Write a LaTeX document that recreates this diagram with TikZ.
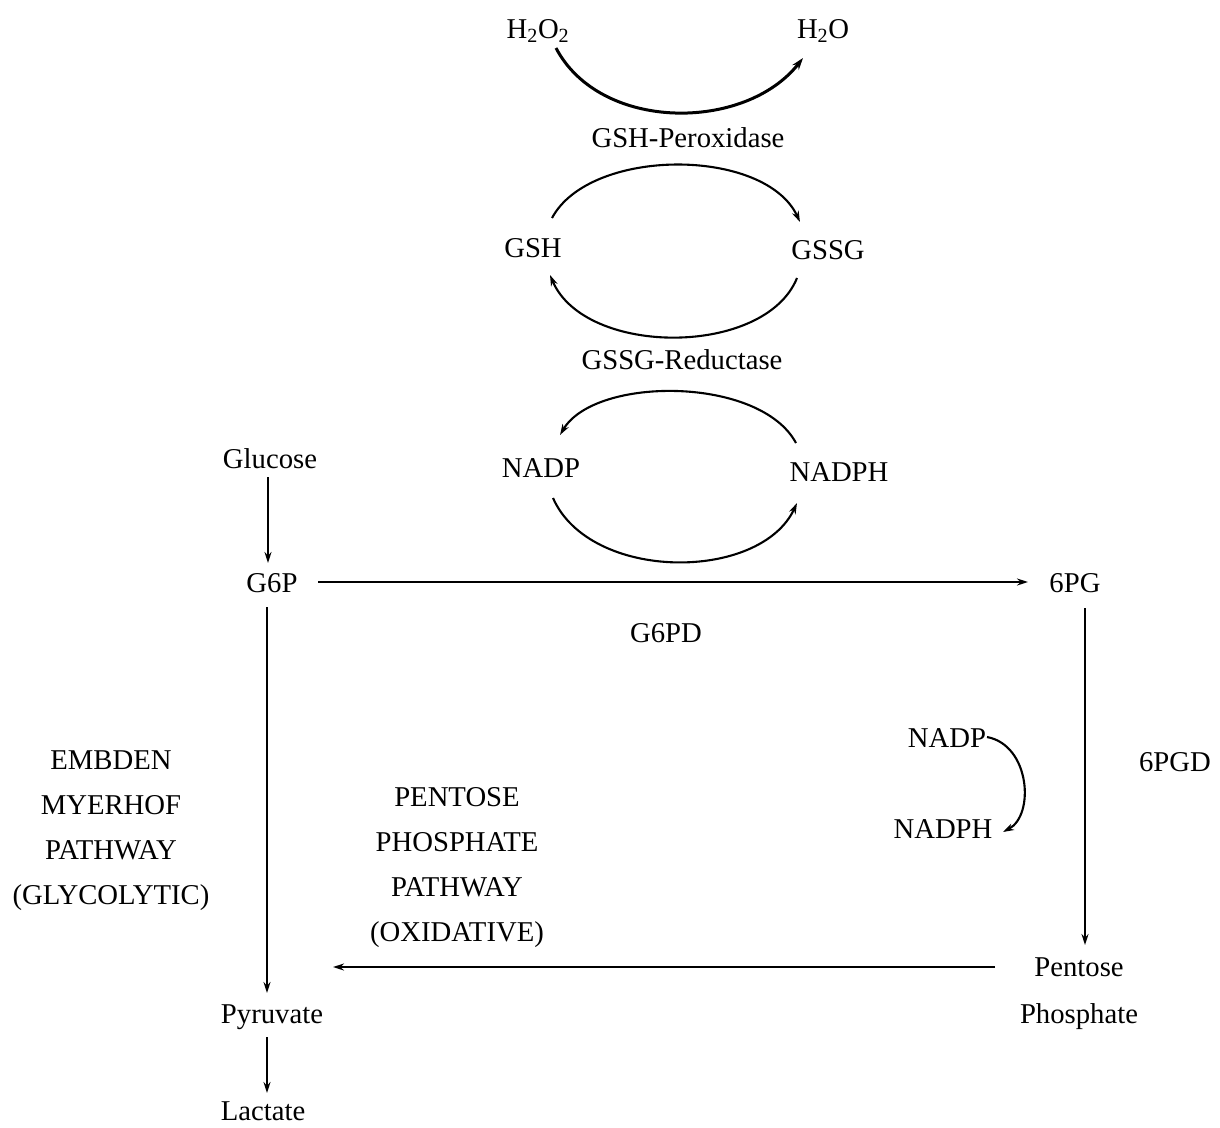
\documentclass[tikz,border=0pt]{standalone}
\usepackage{fontspec}
\setmainfont{Liberation Serif}
\usetikzlibrary{arrows.meta}
\begin{document}
\begin{tikzpicture}[x=1pt,y=-1pt,
  lbl/.style={font=\fontsize{28.7}{45}\selectfont, inner sep=0pt, align=center},
  arr/.style={line width=1.7pt, -{Stealth[length=11pt,width=7pt]}},
  arc/.style={line width=2.1pt, -{Stealth[length=11pt,width=7pt]}},
  arcthick/.style={line width=3pt, -{Stealth[length=12pt,width=8pt]}}]
\useasboundingbox (0,0) rectangle (1220,1127);
% nodes
\node[lbl] (h2o2) at (538,31) {H\textsubscript{2}O\textsubscript{2}};
\node[lbl] (h2o) at (823,31) {H\textsubscript{2}O};
\node[lbl] (gshp) at (688,138) {GSH-Peroxidase};
\node[lbl] (gsh) at (533,248) {GSH};
\node[lbl] (gssg) at (828,250) {GSSG};
\node[lbl] (gssgr) at (682,360) {GSSG-Reductase};
\node[lbl] (glucose) at (270,459) {Glucose};
\node[lbl] (nadp) at (541,468) {NADP};
\node[lbl] (nadph) at (839,472) {NADPH};
\node[lbl] (g6p) at (272,583) {G6P};
\node[lbl] (6pg) at (1075,583) {6PG};
\node[lbl] (g6pd) at (666,633) {G6PD};
\node[lbl] (emp) at (111,831) {EMBDEN\\MYERHOF\\PATHWAY\\(GLYCOLYTIC)};
\node[lbl] (ppp) at (457,868) {PENTOSE\\PHOSPHATE\\PATHWAY\\(OXIDATIVE)};
\node[lbl] (6pgd) at (1175,762) {6PGD};
\node[lbl] (nadp2) at (947,738) {NADP};
\node[lbl] (nadph2) at (943,829) {NADPH};
\node[lbl, font=\fontsize{28.7}{47}\selectfont] (pp) at (1079,994) {Pentose\\Phosphate};
\node[lbl] (pyr) at (272,1017) {Pyruvate};
\node[lbl] (lac) at (263,1111) {Lactate};
% coordinates for connector ends
\coordinate (a1) at (556,48);  \coordinate (a2) at (803,58);
\coordinate (b1) at (552,218); \coordinate (b2) at (800,222);
\coordinate (c1) at (797,278); \coordinate (c2) at (550,275);
\coordinate (d1) at (796,443); \coordinate (d2) at (560,435);
\coordinate (e1) at (553,498); \coordinate (e2) at (797,503);
\coordinate (f1) at (987,737); \coordinate (f2) at (1003,832);
\coordinate (ppleft) at (333,967);
% curved connectors
\draw[arcthick] (a1) .. controls (600,132) and (745,132) .. (a2);
\draw[arc] (b1) .. controls (590,147) and (765,147) .. (b2);
\draw[arc] (c1) .. controls (765,357) and (585,357) .. (c2);
\draw[arc] (d1) .. controls (760,376) and (595,376) .. (d2);
\draw[arc] (e1) .. controls (590,582) and (760,582) .. (e2);
\draw[arc] (f1) .. controls (1030,745) and (1035,815) .. (f2);
% straight connectors
\draw[arr] (268,477) coordinate (gl0) -- (268,563) coordinate (gl1);
\draw[arr] (318,582) coordinate (g0) -- (1028,582) coordinate (g1);
\draw[arr] (267,607) coordinate (m0) -- (267,993) coordinate (m1);
\draw[arr] (1085,608) coordinate (p0) -- (1085,945) coordinate (p1);
\draw[arr] (995,967) coordinate (q0) -- (ppleft);
\draw[arr] (267,1037) coordinate (r0) -- (267,1093) coordinate (r1);
\end{tikzpicture}
\end{document}
